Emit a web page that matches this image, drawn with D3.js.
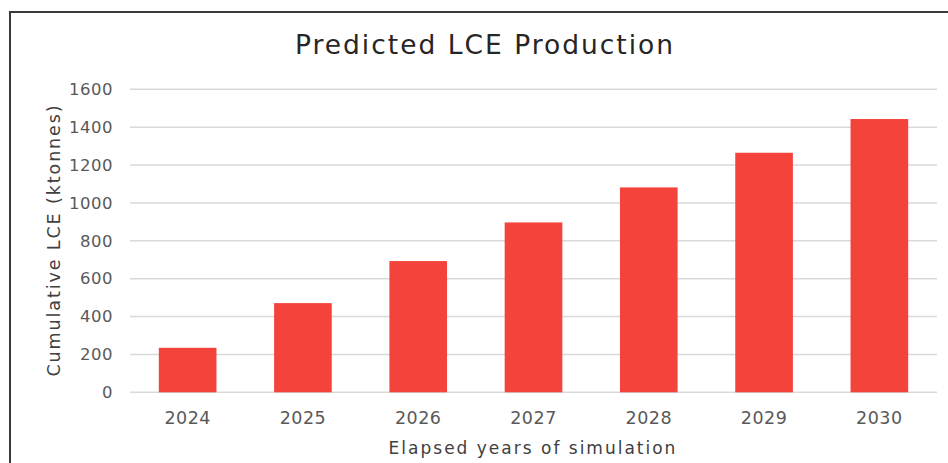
<!DOCTYPE html>
<html>
<head>
<meta charset="utf-8">
<script src="https://cdn.jsdelivr.net/npm/d3@7"></script>
<style>
  html, body { margin: 0; padding: 0; background: #fff; }
  svg { display: block; }
  text { font-family: "DejaVu Sans", sans-serif; }
</style>
</head>
<body>
<svg id="chart" width="948" height="463"></svg>
<script>
const categories = ["2024", "2025", "2026", "2027", "2028", "2029", "2030"];
const values = [235, 471, 693, 897, 1082, 1265, 1443];
const yTicks = [0, 200, 400, 600, 800, 1000, 1200, 1400, 1600];
const title = "Predicted LCE Production";
const xTitle = "Elapsed years of simulation";
const yTitle = "Cumulative LCE (ktonnes)";

(function () {
const svg = d3.select("#chart");
const W = 948, H = 463;
const mLeft = 130, mRight = 937, mTop = 89.3, mBottom = 392.3;

// frame (left and top edges visible)
svg.append("path")
  .attr("d", `M10,${H} L10,12 L${W},12`)
  .attr("fill", "none")
  .attr("stroke", "#3a3a3a")
  .attr("stroke-width", 2);

const x = d3.scaleBand().domain(categories).range([mLeft, mRight]).paddingInner(0.5).paddingOuter(0.25);
const y = d3.scaleLinear().domain([0, 1600]).range([mBottom, mTop]);

// gridlines
svg.append("g").selectAll("line").data(yTicks).join("line")
  .attr("x1", mLeft).attr("x2", mRight)
  .attr("y1", d => y(d)).attr("y2", d => y(d))
  .attr("stroke", "#d9d9d9").attr("stroke-width", 1.5);

// y axis labels
const yAxis = d3.axisLeft(y).tickValues(yTicks).tickFormat(d3.format("d")).tickSize(0).tickPadding(0);
const gy = svg.append("g").attr("transform", `translate(113,0)`).call(yAxis);
gy.select(".domain").remove();
gy.selectAll("text").attr("font-size", 16.5).attr("fill", "#595959")
  .attr("letter-spacing", 0.5)
  .attr("font-family", "DejaVu Sans, sans-serif");

// bars
svg.append("g").selectAll("rect").data(values).join("rect")
  .attr("x", (d, i) => x(categories[i]))
  .attr("width", x.bandwidth())
  .attr("y", d => y(d))
  .attr("height", d => y(0) - y(d))
  .attr("fill", "#f4433a");

// x axis labels
const xAxis = d3.axisBottom(x).tickSize(0).tickPadding(0);
const gx = svg.append("g").attr("transform", `translate(0,${mBottom})`).call(xAxis);
gx.select(".domain").remove();
gx.selectAll("text").attr("font-size", 17.5).attr("fill", "#595959")
  .attr("letter-spacing", 0.5)
  .attr("font-family", "DejaVu Sans, sans-serif")
  .attr("dy", null).attr("y", 32);

// titles
svg.append("text").attr("x", 485).attr("y", 54).attr("text-anchor", "middle")
  .attr("font-size", 26.5).attr("letter-spacing", 2).attr("fill", "#262626").text(title);

svg.append("text").attr("x", 533).attr("y", 454).attr("text-anchor", "middle")
  .attr("font-size", 17).attr("letter-spacing", 2).attr("fill", "#404040").text(xTitle);

svg.append("text").attr("transform", "translate(60,240) rotate(-90)")
  .attr("text-anchor", "middle")
  .attr("font-size", 17.5).attr("letter-spacing", 1.9).attr("fill", "#404040").text(yTitle);
})();
</script>
</body>
</html>
